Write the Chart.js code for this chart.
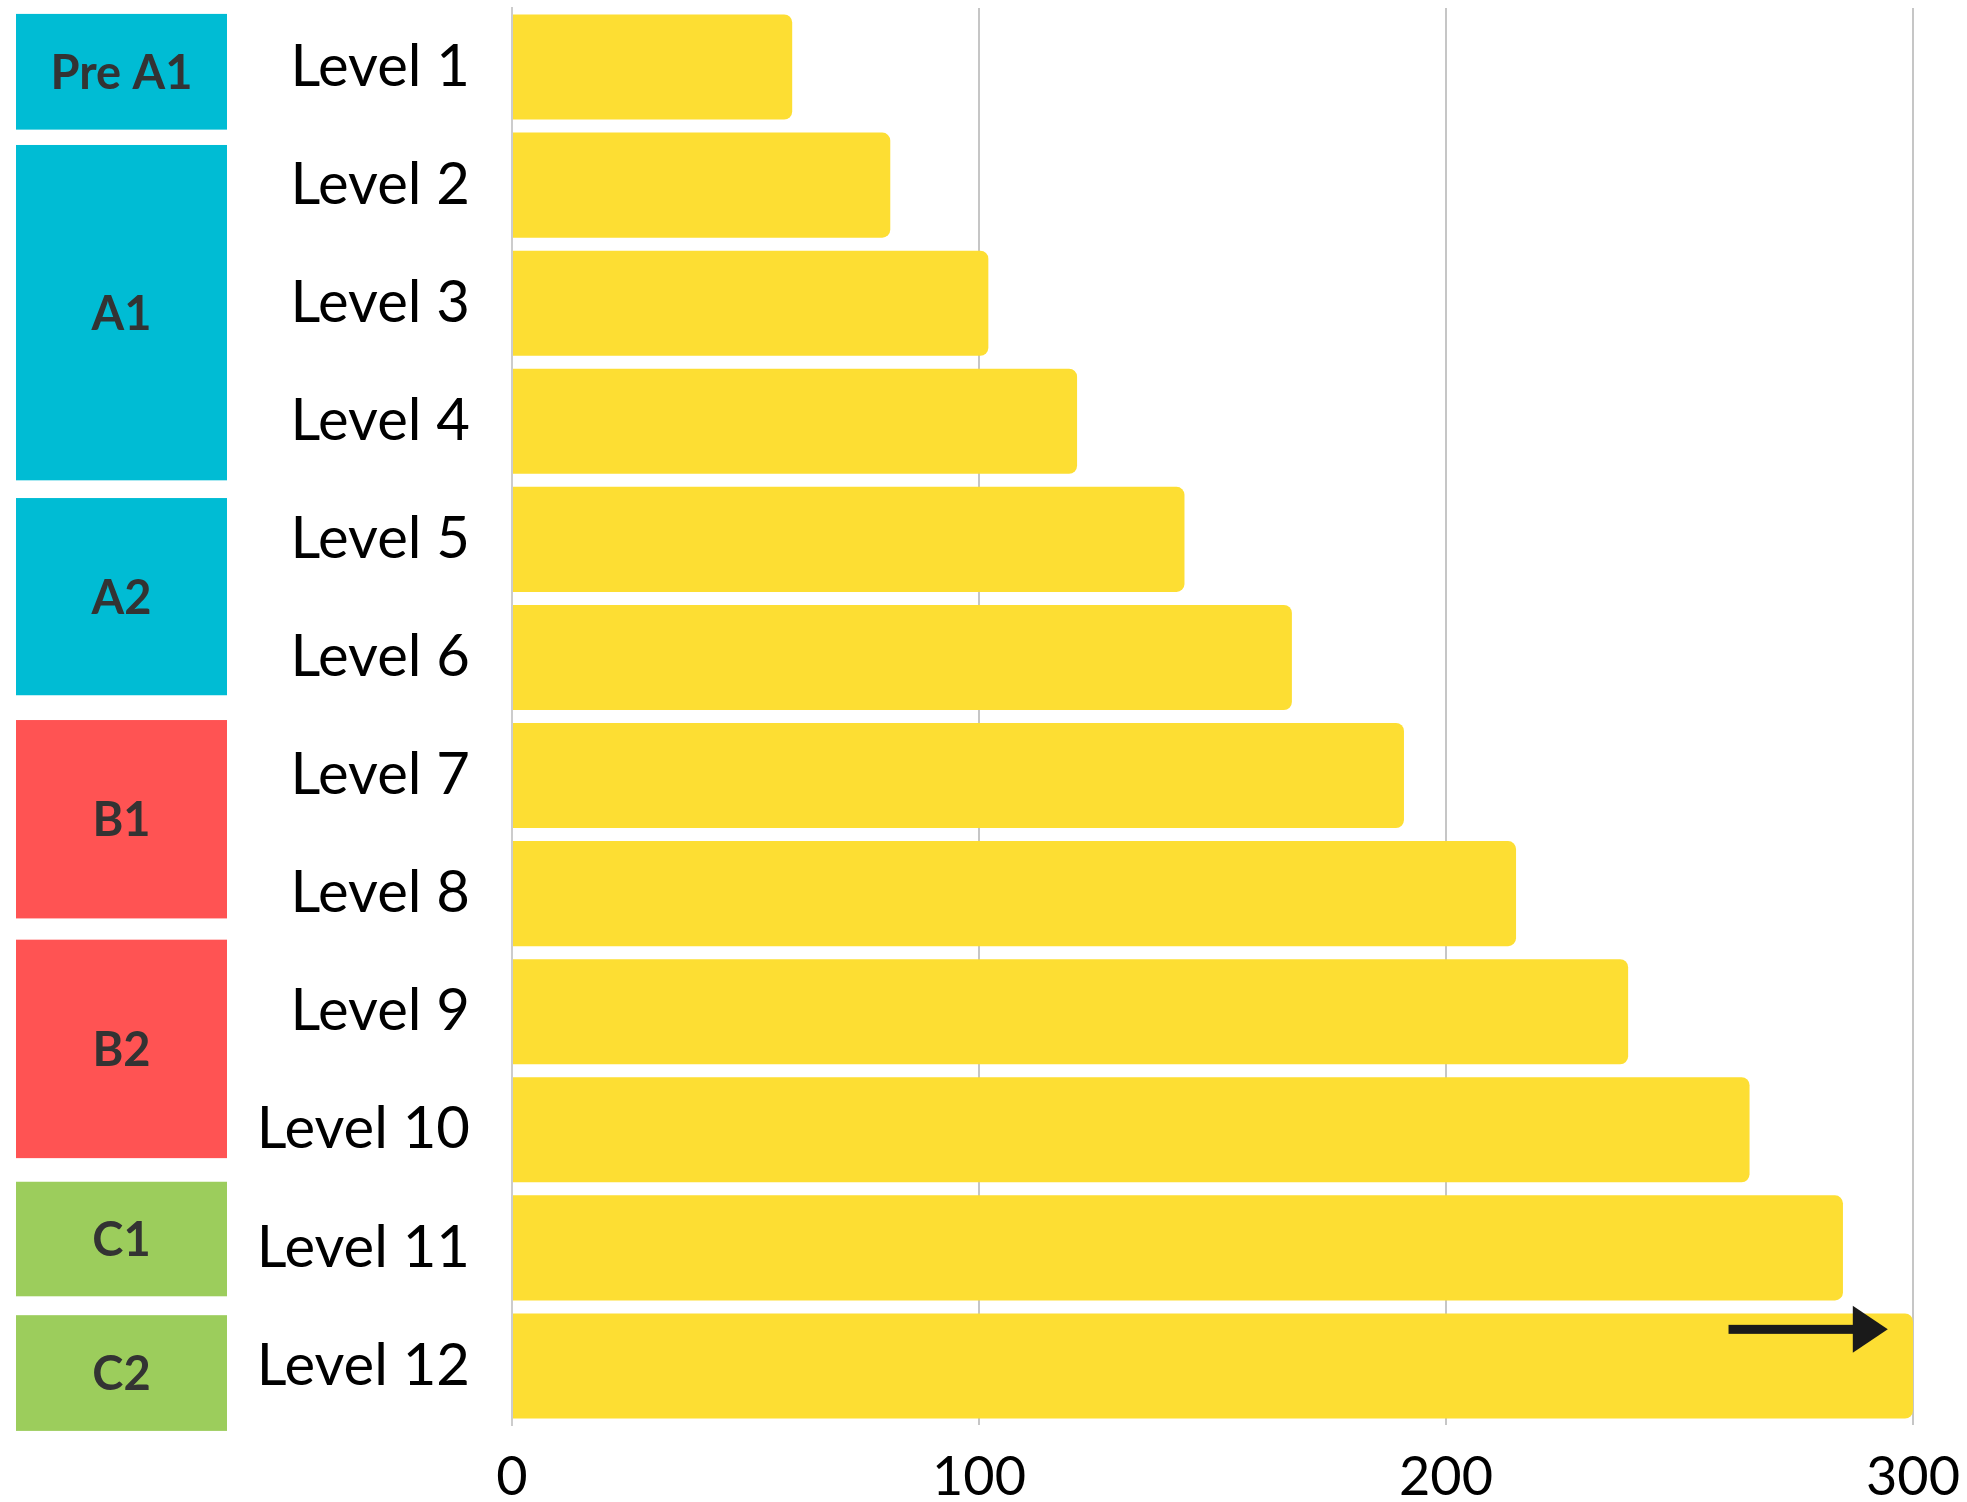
<!DOCTYPE html>
<html>
<head>
<meta charset="utf-8">
<script src="https://cdn.jsdelivr.net/npm/chart.js@4"></script>
<style>
  body { margin: 0; background: #fff; }
  #wrap { width: 1967px; height: 1502px; position: relative; }
</style>
</head>
<body>
<div id="wrap"><canvas id="myChart"></canvas></div>
<script>
  const labels = ['Level 1', 'Level 2', 'Level 3', 'Level 4', 'Level 5', 'Level 6',
    'Level 7', 'Level 8', 'Level 9', 'Level 10', 'Level 11', 'Level 12'];
  const values = [60, 81, 102, 121, 144, 167, 191, 215, 239, 265, 285, 300];
  const xTicks = [0, 100, 200, 300];

  // CEFR bands shown on the left, in level-index units (0 = Level 1)
  const bandNames = ['Pre A1', 'A1', 'A2', 'B1', 'B2', 'C1', 'C2'];
  const bandFrom = [-0.45, 0.66, 3.65, 5.53, 7.39, 9.44, 10.57];
  const bandTo = [0.53, 3.50, 5.32, 7.21, 9.24, 10.41, 11.55];
  const bandColors = ['#00bcd4', '#00bcd4', '#00bcd4', '#ff5353', '#ff5353', '#9ccd5c', '#9ccd5c'];

  // arrow on the last bar (x in value units, y in level-index units)
  const arrowFrom = 260.5;
  const arrowTo = 294.6;
  const arrowRow = 10.69;

  const bandsPlugin = {
    id: 'bands',
    afterDraw(chart) {
      const ctx = chart.ctx;
      const y = chart.scales.y;
      const x = chart.scales.x;
      ctx.save();
      bandNames.forEach((name, i) => {
        const top = y.getPixelForValue(bandFrom[i]);
        const bottom = y.getPixelForValue(bandTo[i]);
        ctx.fillStyle = bandColors[i];
        ctx.fillRect(16, top, 211, bottom - top);
        ctx.fillStyle = '#333333';
        ctx.font = 'bold 47px Lato';
        ctx.textAlign = 'center';
        ctx.textBaseline = 'middle';
        ctx.fillText(name, 121.5, (top + bottom) / 2 + 2);
      });

      // arrow
      const ay = y.getPixelForValue(arrowRow);
      const x0 = x.getPixelForValue(arrowFrom);
      const x1 = x.getPixelForValue(arrowTo);
      ctx.fillStyle = '#1a1a1a';
      ctx.fillRect(x0, ay - 4.5, x1 - x0 - 30, 9);
      ctx.beginPath();
      ctx.moveTo(x1, ay);
      ctx.lineTo(x1 - 35, ay - 23.5);
      ctx.lineTo(x1 - 35, ay + 23.5);
      ctx.closePath();
      ctx.fill();
      ctx.restore();
    }
  };

  const data = {
    labels: labels,
    datasets: [
      {
        label: 'Hours',
        backgroundColor: '#fdde33',
        borderWidth: 0,
        borderRadius: 8,
        borderSkipped: 'start',
        barPercentage: 0.89,
        categoryPercentage: 1,
        data: values
      }
    ]
  };

  const config = {
    type: 'bar',
    data: data,
    options: {
      indexAxis: 'y',
      responsive: true,
      maintainAspectRatio: false,
      animation: false,
      layout: { padding: { top: 8, right: 54, left: 0, bottom: 0 } },
      plugins: {
        legend: { display: false },
        tooltip: { enabled: false }
      },
      scales: {
        x: {
          min: 0,
          max: 300,
          afterBuildTicks: (scale) => { scale.ticks = xTicks.map(v => ({ value: v })); },
          afterFit: (scale) => {
            scale.height = 77;
            scale.paddingLeft = 0;
            scale.paddingRight = 0;
          },
          grid: { color: '#c6c6c6', lineWidth: 2, drawTicks: false },
          border: { display: false },
          ticks: {
            color: '#000',
            padding: 20,
            font: { family: 'Lato', size: 54 }
          }
        },
        y: {
          afterFit: (scale) => {
            scale.width = 512;
            scale.paddingTop = 0;
            scale.paddingBottom = 0;
          },
          grid: { display: false, drawTicks: false },
          border: { display: true, color: '#cccccc', width: 2 },
          ticks: {
            color: '#000',
            padding: 42,
            font: { family: 'Lato', size: 58 }
          }
        }
      }
    },
    plugins: [bandsPlugin]
  };

  const myChart = new Chart(document.getElementById('myChart'), config);
</script>
</body>
</html>
